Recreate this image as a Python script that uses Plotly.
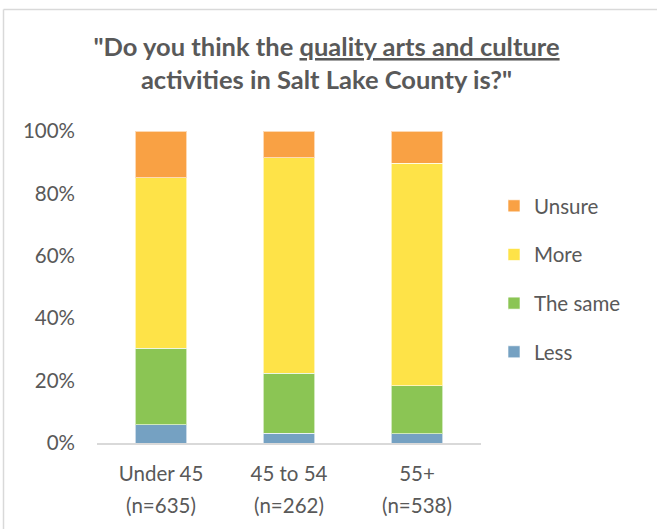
import plotly.graph_objects as go

# Survey responses by age group (share of respondents)
age_groups = ["Under 45", "45 to 54", "55+"]
sample_sizes = ["(n=635)", "(n=262)", "(n=538)"]
less = [0.058, 0.032, 0.029]
the_same = [0.245, 0.191, 0.155]
more = [0.547, 0.692, 0.712]
unsure = [0.150, 0.085, 0.104]

# (name, values, colour, legend position from the top)
series = [
    ("Less", less, "#75A1C2", 4),
    ("The same", the_same, "#8BC554", 3),
    ("More", more, "#FEE348", 2),
    ("Unsure", unsure, "#F9A144", 1),
]
y_ticks = [0, 0.2, 0.4, 0.6, 0.8, 1.0]

W, H = 657, 529
L, R, T, B = 97, 176, 131, 86

def px_x(px):
    return (px - L) / (W - L - R)

def px_y(py):
    return (H - B - py) / (H - T - B)

text_color = "#595959"
font_family = "Lato, 'Open Sans', sans-serif"

fig = go.Figure()
for name, vals, color, rank in series:
    fig.add_trace(go.Bar(
        x=age_groups,
        y=vals,
        name=name,
        legendgroup=name,
        legendrank=rank,
        marker=dict(color=color, line=dict(color="rgba(255,255,255,0.6)", width=1)),
        hovertemplate="%{x}<br>" + name + ": %{y:.0%}<extra></extra>",
    ))

fig.update_layout(
    width=W,
    height=H,
    margin=dict(l=L, r=R, t=T, b=B, pad=0),
    paper_bgcolor="white",
    plot_bgcolor="white",
    barmode="stack",
    bargap=0.6,
    font=dict(family=font_family, color=text_color, size=20),
    title=dict(
        text='"Do you think the <u>quality arts and culture</u><br>activities in Salt Lake County is?"',
        x=0.497,
        xref="container",
        xanchor="center",
        y=1 - 56 / H,
        yref="container",
        yanchor="top",
        font=dict(family=font_family, size=25.5, color=text_color, weight="bold"),
    ),
    legend=dict(
        x=px_x(494),
        y=px_y(186),
        xanchor="left",
        yanchor="top",
        traceorder="grouped",
        tracegroupgap=19,
        font=dict(size=20.5, color=text_color),
        bgcolor="rgba(0,0,0,0)",
    ),
    xaxis=dict(
        type="category",
        showgrid=False,
        zeroline=False,
        showline=True,
        linecolor="#D9D9D9",
        linewidth=1.5,
        ticks="",
        ticklabelstandoff=12,
        tickfont=dict(size=20.5, color=text_color),
    ),
    xaxis2=dict(
        overlaying="x",
        anchor="y",
        side="bottom",
        range=[-0.5, 2.5],
        tickmode="array",
        tickvals=[0, 1, 2],
        ticktext=sample_sizes,
        showgrid=False,
        zeroline=False,
        showline=False,
        ticks="",
        ticklabelstandoff=48,
        tickfont=dict(size=20.5, color=text_color),
    ),
    yaxis=dict(
        range=[0, 1],
        tickvals=y_ticks,
        tickformat=".0%",
        showgrid=False,
        zeroline=False,
        showline=False,
        ticks="",
        ticklabelstandoff=21,
        tickfont=dict(size=20.5, color=text_color),
    ),
    shapes=[
        dict(type="line", xref="paper", yref="paper",
             x0=px_x(3.5), x1=px_x(W + 10), y0=px_y(9.5), y1=px_y(9.5),
             line=dict(color="#D9D9D9", width=1.5)),
        dict(type="line", xref="paper", yref="paper",
             x0=px_x(3.5), x1=px_x(3.5), y0=px_y(9.5), y1=px_y(H + 10),
             line=dict(color="#D9D9D9", width=1.5)),
    ],
)

# A hidden trace keeps the sample-size axis active
fig.add_trace(go.Scatter(x=[0, 1, 2], y=[None, None, None], xaxis="x2",
                         showlegend=False, hoverinfo="skip"))

fig.write_html("out.html")
